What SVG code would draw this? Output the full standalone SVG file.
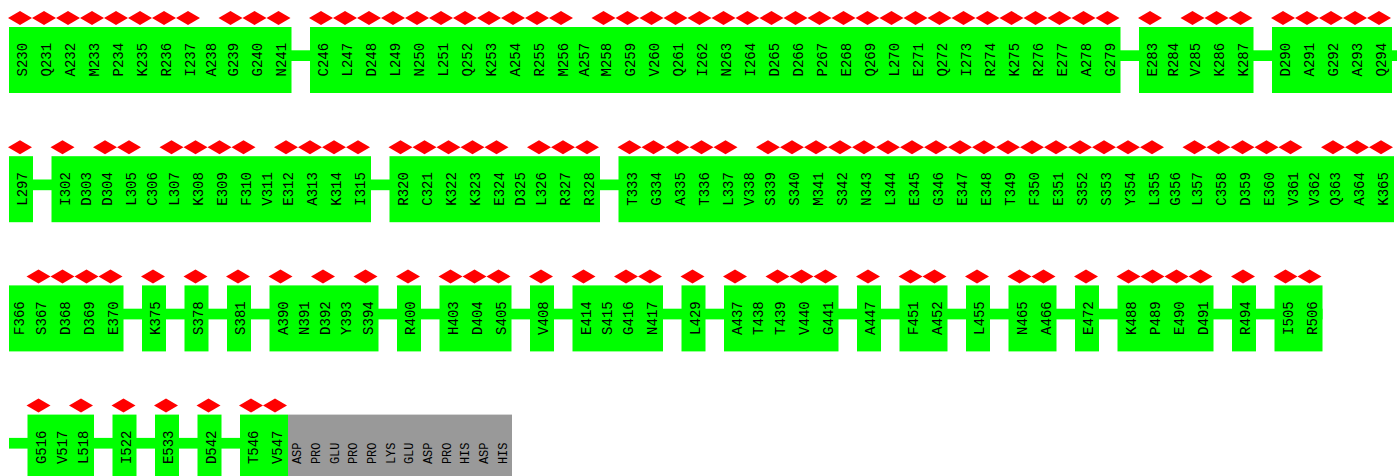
<svg xmlns="http://www.w3.org/2000/svg" xmlns:xlink="http://www.w3.org/1999/xlink" width="1397" height="476" viewBox="0 0 1397 476">
<style>
.box{fill:#00ff00}
.bar{fill:#00ff00}
.gray{fill:#999999}
.lbl{font-family:"Liberation Mono",monospace;font-size:14px;fill:#000}
.glbl{font-family:"Liberation Mono",monospace;font-size:12px;fill:#000}
</style>
<defs>
<path id="dm" d="M-12,0 L0,-7 L12,0 L0,7 Z" fill="#ff0000"/>
</defs>
<rect width="1397" height="476" fill="#ffffff"/>
<g id="connectors">
<rect class="bar" x="9" y="50.3" width="1388" height="10.7"/>
<rect class="bar" x="9" y="179.5" width="1385" height="10.7"/>
<rect class="bar" x="9" y="308.7" width="1313.5" height="10.7"/>
<rect class="bar" x="9" y="437.9" width="279" height="10.7"/>
</g>

<!-- Row 1 -->
<g id="seg-S230-N241">
<rect class="box" x="9" y="27" width="282.5" height="66"/>
<use href="#dm" x="20" y="18"/><use href="#dm" x="44" y="18"/><use href="#dm" x="68" y="18"/><use href="#dm" x="92" y="18"/><use href="#dm" x="116" y="18"/><use href="#dm" x="140" y="18"/><use href="#dm" x="164" y="18"/><use href="#dm" x="188" y="18"/><use href="#dm" x="230.5" y="18"/><use href="#dm" x="254.5" y="18"/><use href="#dm" x="278.5" y="18"/>
<g class="lbl" transform="rotate(-90)">
<text x="-76.5" y="27">S230</text><text x="-76.5" y="51">Q231</text><text x="-76.5" y="75">A232</text><text x="-76.5" y="99">M233</text><text x="-76.5" y="123">P234</text><text x="-76.5" y="147">K235</text><text x="-76.5" y="171">R236</text><text x="-76.5" y="195">I237</text><text x="-76.5" y="216.25">A238</text><text x="-76.5" y="237.5">G239</text><text x="-76.5" y="261.5">G240</text><text x="-76.5" y="285.5">N241</text>
</g>
</g>
<g id="seg-C246-G279">
<rect class="box" x="310" y="27" width="810.5" height="66"/>
<use href="#dm" x="321" y="18"/><use href="#dm" x="345" y="18"/><use href="#dm" x="369" y="18"/><use href="#dm" x="393" y="18"/><use href="#dm" x="417" y="18"/><use href="#dm" x="441" y="18"/><use href="#dm" x="465" y="18"/><use href="#dm" x="489" y="18"/><use href="#dm" x="513" y="18"/><use href="#dm" x="537" y="18"/><use href="#dm" x="561" y="18"/><use href="#dm" x="603.5" y="18"/><use href="#dm" x="627.5" y="18"/><use href="#dm" x="651.5" y="18"/><use href="#dm" x="675.5" y="18"/><use href="#dm" x="699.5" y="18"/><use href="#dm" x="723.5" y="18"/><use href="#dm" x="747.5" y="18"/><use href="#dm" x="771.5" y="18"/><use href="#dm" x="795.5" y="18"/><use href="#dm" x="819.5" y="18"/><use href="#dm" x="843.5" y="18"/><use href="#dm" x="867.5" y="18"/><use href="#dm" x="891.5" y="18"/><use href="#dm" x="915.5" y="18"/><use href="#dm" x="939.5" y="18"/><use href="#dm" x="963.5" y="18"/><use href="#dm" x="987.5" y="18"/><use href="#dm" x="1011.5" y="18"/><use href="#dm" x="1035.5" y="18"/><use href="#dm" x="1059.5" y="18"/><use href="#dm" x="1083.5" y="18"/><use href="#dm" x="1107.5" y="18"/>
<g class="lbl" transform="rotate(-90)">
<text x="-76.5" y="328">C246</text><text x="-76.5" y="352">L247</text><text x="-76.5" y="376">D248</text><text x="-76.5" y="400">L249</text><text x="-76.5" y="424">N250</text><text x="-76.5" y="448">L251</text><text x="-76.5" y="472">Q252</text><text x="-76.5" y="496">K253</text><text x="-76.5" y="520">A254</text><text x="-76.5" y="544">R255</text><text x="-76.5" y="568">M256</text><text x="-76.5" y="589.25">A257</text><text x="-76.5" y="610.5">M258</text><text x="-76.5" y="634.5">G259</text><text x="-76.5" y="658.5">V260</text><text x="-76.5" y="682.5">Q261</text><text x="-76.5" y="706.5">I262</text><text x="-76.5" y="730.5">N263</text><text x="-76.5" y="754.5">I264</text><text x="-76.5" y="778.5">D265</text><text x="-76.5" y="802.5">D266</text><text x="-76.5" y="826.5">P267</text><text x="-76.5" y="850.5">E268</text><text x="-76.5" y="874.5">Q269</text><text x="-76.5" y="898.5">L270</text><text x="-76.5" y="922.5">E271</text><text x="-76.5" y="946.5">Q272</text><text x="-76.5" y="970.5">I273</text><text x="-76.5" y="994.5">R274</text><text x="-76.5" y="1018.5">K275</text><text x="-76.5" y="1042.5">R276</text><text x="-76.5" y="1066.5">E277</text><text x="-76.5" y="1090.5">A278</text><text x="-76.5" y="1114.5">G279</text>
</g>
</g>
<g id="seg-E283-K287">
<rect class="box" x="1139" y="27" width="114.5" height="66"/>
<use href="#dm" x="1150" y="18"/><use href="#dm" x="1192.5" y="18"/><use href="#dm" x="1216.5" y="18"/><use href="#dm" x="1240.5" y="18"/>
<g class="lbl" transform="rotate(-90)">
<text x="-76.5" y="1157">E283</text><text x="-76.5" y="1178.25">R284</text><text x="-76.5" y="1199.5">V285</text><text x="-76.5" y="1223.5">K286</text><text x="-76.5" y="1247.5">K287</text>
</g>
</g>
<g id="seg-D290-Q294">
<rect class="box" x="1272" y="27" width="120" height="66"/>
<use href="#dm" x="1283" y="18"/><use href="#dm" x="1307" y="18"/><use href="#dm" x="1331" y="18"/><use href="#dm" x="1355" y="18"/><use href="#dm" x="1379" y="18"/>
<g class="lbl" transform="rotate(-90)">
<text x="-76.5" y="1290">D290</text><text x="-76.5" y="1314">A291</text><text x="-76.5" y="1338">G292</text><text x="-76.5" y="1362">A293</text><text x="-76.5" y="1386">Q294</text>
</g>
</g>

<!-- Row 2 -->
<g id="seg-L297">
<rect class="box" x="9" y="156.2" width="24" height="66"/>
<use href="#dm" x="20" y="147.2"/>
<g class="lbl" transform="rotate(-90)"><text x="-205.7" y="27">L297</text></g>
</g>
<g id="seg-I302-I315">
<rect class="box" x="51.5" y="156.2" width="319.5" height="66"/>
<use href="#dm" x="62.5" y="147.2"/><use href="#dm" x="105" y="147.2"/><use href="#dm" x="129" y="147.2"/><use href="#dm" x="171.5" y="147.2"/><use href="#dm" x="195.5" y="147.2"/><use href="#dm" x="219.5" y="147.2"/><use href="#dm" x="243.5" y="147.2"/><use href="#dm" x="286" y="147.2"/><use href="#dm" x="310" y="147.2"/><use href="#dm" x="334" y="147.2"/><use href="#dm" x="358" y="147.2"/>
<g class="lbl" transform="rotate(-90)">
<text x="-205.7" y="69.5">I302</text><text x="-205.7" y="90.75">D303</text><text x="-205.7" y="112">D304</text><text x="-205.7" y="136">L305</text><text x="-205.7" y="157.25">C306</text><text x="-205.7" y="178.5">L307</text><text x="-205.7" y="202.5">K308</text><text x="-205.7" y="226.5">E309</text><text x="-205.7" y="250.5">F310</text><text x="-205.7" y="271.75">V311</text><text x="-205.7" y="293">E312</text><text x="-205.7" y="317">A313</text><text x="-205.7" y="341">K314</text><text x="-205.7" y="365">I315</text>
</g>
</g>
<g id="seg-R320-R328">
<rect class="box" x="389.5" y="156.2" width="210.5" height="66"/>
<use href="#dm" x="400.5" y="147.2"/><use href="#dm" x="424.5" y="147.2"/><use href="#dm" x="448.5" y="147.2"/><use href="#dm" x="472.5" y="147.2"/><use href="#dm" x="496.5" y="147.2"/><use href="#dm" x="539" y="147.2"/><use href="#dm" x="563" y="147.2"/><use href="#dm" x="587" y="147.2"/>
<g class="lbl" transform="rotate(-90)">
<text x="-205.7" y="407.5">R320</text><text x="-205.7" y="431.5">C321</text><text x="-205.7" y="455.5">K322</text><text x="-205.7" y="479.5">K323</text><text x="-205.7" y="503.5">E324</text><text x="-205.7" y="524.75">D325</text><text x="-205.7" y="546">L326</text><text x="-205.7" y="570">R327</text><text x="-205.7" y="594">R328</text>
</g>
</g>
<g id="seg-T333-K365">
<rect class="box" x="618.5" y="156.2" width="775.5" height="66"/>
<use href="#dm" x="629.5" y="147.2"/><use href="#dm" x="653.5" y="147.2"/><use href="#dm" x="677.5" y="147.2"/><use href="#dm" x="701.5" y="147.2"/><use href="#dm" x="725.5" y="147.2"/><use href="#dm" x="768" y="147.2"/><use href="#dm" x="792" y="147.2"/><use href="#dm" x="816" y="147.2"/><use href="#dm" x="840" y="147.2"/><use href="#dm" x="864" y="147.2"/><use href="#dm" x="888" y="147.2"/><use href="#dm" x="912" y="147.2"/><use href="#dm" x="936" y="147.2"/><use href="#dm" x="960" y="147.2"/><use href="#dm" x="984" y="147.2"/><use href="#dm" x="1008" y="147.2"/><use href="#dm" x="1032" y="147.2"/><use href="#dm" x="1056" y="147.2"/><use href="#dm" x="1080" y="147.2"/><use href="#dm" x="1104" y="147.2"/><use href="#dm" x="1128" y="147.2"/><use href="#dm" x="1152" y="147.2"/><use href="#dm" x="1194.5" y="147.2"/><use href="#dm" x="1218.5" y="147.2"/><use href="#dm" x="1242.5" y="147.2"/><use href="#dm" x="1266.5" y="147.2"/><use href="#dm" x="1290.5" y="147.2"/><use href="#dm" x="1333" y="147.2"/><use href="#dm" x="1357" y="147.2"/><use href="#dm" x="1381" y="147.2"/>
<g class="lbl" transform="rotate(-90)">
<text x="-205.7" y="636.5">T333</text><text x="-205.7" y="660.5">G334</text><text x="-205.7" y="684.5">A335</text><text x="-205.7" y="708.5">T336</text><text x="-205.7" y="732.5">L337</text><text x="-205.7" y="753.75">V338</text><text x="-205.7" y="775">S339</text><text x="-205.7" y="799">S340</text><text x="-205.7" y="823">M341</text><text x="-205.7" y="847">S342</text><text x="-205.7" y="871">N343</text><text x="-205.7" y="895">L344</text><text x="-205.7" y="919">E345</text><text x="-205.7" y="943">G346</text><text x="-205.7" y="967">E347</text><text x="-205.7" y="991">E348</text><text x="-205.7" y="1015">T349</text><text x="-205.7" y="1039">F350</text><text x="-205.7" y="1063">E351</text><text x="-205.7" y="1087">S352</text><text x="-205.7" y="1111">S353</text><text x="-205.7" y="1135">Y354</text><text x="-205.7" y="1159">L355</text><text x="-205.7" y="1180.25">G356</text><text x="-205.7" y="1201.5">L357</text><text x="-205.7" y="1225.5">C358</text><text x="-205.7" y="1249.5">D359</text><text x="-205.7" y="1273.5">E360</text><text x="-205.7" y="1297.5">V361</text><text x="-205.7" y="1318.75">V362</text><text x="-205.7" y="1340">Q363</text><text x="-205.7" y="1364">A364</text><text x="-205.7" y="1388">K365</text>
</g>
</g>

<!-- Row 3 -->
<g id="seg-F366-E370">
<rect class="box" x="9" y="285.4" width="114.5" height="66"/>
<use href="#dm" x="38.5" y="276.4"/><use href="#dm" x="62.5" y="276.4"/><use href="#dm" x="86.5" y="276.4"/><use href="#dm" x="110.5" y="276.4"/>
<g class="lbl" transform="rotate(-90)">
<text x="-334.9" y="24.25">F366</text><text x="-334.9" y="45.5">S367</text><text x="-334.9" y="69.5">D368</text><text x="-334.9" y="93.5">D369</text><text x="-334.9" y="117.5">E370</text>
</g>
</g>
<g id="seg-K375">
<rect class="box" x="142" y="285.4" width="24" height="66"/>
<use href="#dm" x="153" y="276.4"/>
<g class="lbl" transform="rotate(-90)"><text x="-334.9" y="160">K375</text></g>
</g>
<g id="seg-S378">
<rect class="box" x="184.5" y="285.4" width="24" height="66"/>
<use href="#dm" x="195.5" y="276.4"/>
<g class="lbl" transform="rotate(-90)"><text x="-334.9" y="202.5">S378</text></g>
</g>
<g id="seg-S381">
<rect class="box" x="227" y="285.4" width="24" height="66"/>
<use href="#dm" x="238" y="276.4"/>
<g class="lbl" transform="rotate(-90)"><text x="-334.9" y="245">S381</text></g>
</g>
<g id="seg-A390-S394">
<rect class="box" x="269.5" y="285.4" width="109" height="66"/>
<use href="#dm" x="280.5" y="276.4"/><use href="#dm" x="323" y="276.4"/><use href="#dm" x="365.5" y="276.4"/>
<g class="lbl" transform="rotate(-90)">
<text x="-334.9" y="287.5">A390</text><text x="-334.9" y="308.75">N391</text><text x="-334.9" y="330">D392</text><text x="-334.9" y="351.25">Y393</text><text x="-334.9" y="372.5">S394</text>
</g>
</g>
<g id="seg-R400">
<rect class="box" x="397" y="285.4" width="24" height="66"/>
<use href="#dm" x="408" y="276.4"/>
<g class="lbl" transform="rotate(-90)"><text x="-334.9" y="415">R400</text></g>
</g>
<g id="seg-H403-S405">
<rect class="box" x="439.5" y="285.4" width="72" height="66"/>
<use href="#dm" x="450.5" y="276.4"/><use href="#dm" x="474.5" y="276.4"/><use href="#dm" x="498.5" y="276.4"/>
<g class="lbl" transform="rotate(-90)">
<text x="-334.9" y="457.5">H403</text><text x="-334.9" y="481.5">D404</text><text x="-334.9" y="505.5">S405</text>
</g>
</g>
<g id="seg-V408">
<rect class="box" x="530" y="285.4" width="24" height="66"/>
<use href="#dm" x="541" y="276.4"/>
<g class="lbl" transform="rotate(-90)"><text x="-334.9" y="548">V408</text></g>
</g>
<g id="seg-E414-N417">
<rect class="box" x="572.5" y="285.4" width="90.5" height="66"/>
<use href="#dm" x="583.5" y="276.4"/><use href="#dm" x="626" y="276.4"/><use href="#dm" x="650" y="276.4"/>
<g class="lbl" transform="rotate(-90)">
<text x="-334.9" y="590.5">E414</text><text x="-334.9" y="611.75">S415</text><text x="-334.9" y="633">G416</text><text x="-334.9" y="657">N417</text>
</g>
</g>
<g id="seg-L429">
<rect class="box" x="681.5" y="285.4" width="24" height="66"/>
<use href="#dm" x="692.5" y="276.4"/>
<g class="lbl" transform="rotate(-90)"><text x="-334.9" y="699.5">L429</text></g>
</g>
<g id="seg-A437-G441">
<rect class="box" x="724" y="285.4" width="114.5" height="66"/>
<use href="#dm" x="735" y="276.4"/><use href="#dm" x="777.5" y="276.4"/><use href="#dm" x="801.5" y="276.4"/><use href="#dm" x="825.5" y="276.4"/>
<g class="lbl" transform="rotate(-90)">
<text x="-334.9" y="742">A437</text><text x="-334.9" y="763.25">T438</text><text x="-334.9" y="784.5">T439</text><text x="-334.9" y="808.5">V440</text><text x="-334.9" y="832.5">G441</text>
</g>
</g>
<g id="seg-A447">
<rect class="box" x="857" y="285.4" width="24" height="66"/>
<use href="#dm" x="868" y="276.4"/>
<g class="lbl" transform="rotate(-90)"><text x="-334.9" y="875">A447</text></g>
</g>
<g id="seg-F451-A452">
<rect class="box" x="899.5" y="285.4" width="48" height="66"/>
<use href="#dm" x="910.5" y="276.4"/><use href="#dm" x="934.5" y="276.4"/>
<g class="lbl" transform="rotate(-90)">
<text x="-334.9" y="917.5">F451</text><text x="-334.9" y="941.5">A452</text>
</g>
</g>
<g id="seg-L455">
<rect class="box" x="966" y="285.4" width="24" height="66"/>
<use href="#dm" x="977" y="276.4"/>
<g class="lbl" transform="rotate(-90)"><text x="-334.9" y="984">L455</text></g>
</g>
<g id="seg-N465-A466">
<rect class="box" x="1008.5" y="285.4" width="48" height="66"/>
<use href="#dm" x="1019.5" y="276.4"/><use href="#dm" x="1043.5" y="276.4"/>
<g class="lbl" transform="rotate(-90)">
<text x="-334.9" y="1026.5">N465</text><text x="-334.9" y="1050.5">A466</text>
</g>
</g>
<g id="seg-E472">
<rect class="box" x="1075" y="285.4" width="24" height="66"/>
<use href="#dm" x="1086" y="276.4"/>
<g class="lbl" transform="rotate(-90)"><text x="-334.9" y="1093">E472</text></g>
</g>
<g id="seg-K488-D491">
<rect class="box" x="1117.5" y="285.4" width="96" height="66"/>
<use href="#dm" x="1128.5" y="276.4"/><use href="#dm" x="1152.5" y="276.4"/><use href="#dm" x="1176.5" y="276.4"/><use href="#dm" x="1200.5" y="276.4"/>
<g class="lbl" transform="rotate(-90)">
<text x="-334.9" y="1135.5">K488</text><text x="-334.9" y="1159.5">P489</text><text x="-334.9" y="1183.5">E490</text><text x="-334.9" y="1207.5">D491</text>
</g>
</g>
<g id="seg-R494">
<rect class="box" x="1232" y="285.4" width="24" height="66"/>
<use href="#dm" x="1243" y="276.4"/>
<g class="lbl" transform="rotate(-90)"><text x="-334.9" y="1250">R494</text></g>
</g>
<g id="seg-I505-R506">
<rect class="box" x="1274.5" y="285.4" width="48" height="66"/>
<use href="#dm" x="1285.5" y="276.4"/><use href="#dm" x="1309.5" y="276.4"/>
<g class="lbl" transform="rotate(-90)">
<text x="-334.9" y="1292.5">I505</text><text x="-334.9" y="1316.5">R506</text>
</g>
</g>

<!-- Row 4 -->
<g id="seg-G516-L518">
<rect class="box" x="27.5" y="414.6" width="66.5" height="66"/>
<use href="#dm" x="38.5" y="405.6"/><use href="#dm" x="81" y="405.6"/>
<g class="lbl" transform="rotate(-90)">
<text x="-464.1" y="45.5">G516</text><text x="-464.1" y="66.75">V517</text><text x="-464.1" y="88">L518</text>
</g>
</g>
<g id="seg-I522">
<rect class="box" x="112.5" y="414.6" width="24" height="66"/>
<use href="#dm" x="123.5" y="405.6"/>
<g class="lbl" transform="rotate(-90)"><text x="-464.1" y="130.5">I522</text></g>
</g>
<g id="seg-E533">
<rect class="box" x="155" y="414.6" width="24" height="66"/>
<use href="#dm" x="166" y="405.6"/>
<g class="lbl" transform="rotate(-90)"><text x="-464.1" y="173">E533</text></g>
</g>
<g id="seg-D542">
<rect class="box" x="197.5" y="414.6" width="24" height="66"/>
<use href="#dm" x="208.5" y="405.6"/>
<g class="lbl" transform="rotate(-90)"><text x="-464.1" y="215.5">D542</text></g>
</g>
<g id="seg-T546-V547">
<rect class="box" x="240" y="414.6" width="48" height="66"/>
<use href="#dm" x="251" y="405.6"/><use href="#dm" x="275" y="405.6"/>
<g class="lbl" transform="rotate(-90)">
<text x="-464.1" y="258">T546</text><text x="-464.1" y="282">V547</text>
</g>
</g>
<g id="seg-unresolved">
<rect class="gray" x="288" y="414.6" width="224" height="66"/>
<g class="glbl" transform="rotate(-90)">
<text x="-464.1" y="301.33">ASP</text><text x="-464.1" y="320">PRO</text><text x="-464.1" y="338.67">GLU</text><text x="-464.1" y="357.33">PRO</text><text x="-464.1" y="376">PRO</text><text x="-464.1" y="394.67">LYS</text><text x="-464.1" y="413.33">GLU</text><text x="-464.1" y="432">ASP</text><text x="-464.1" y="450.67">PRO</text><text x="-464.1" y="469.33">HIS</text><text x="-464.1" y="488">ASP</text><text x="-464.1" y="506.67">HIS</text>
</g>
</g>
</svg>
